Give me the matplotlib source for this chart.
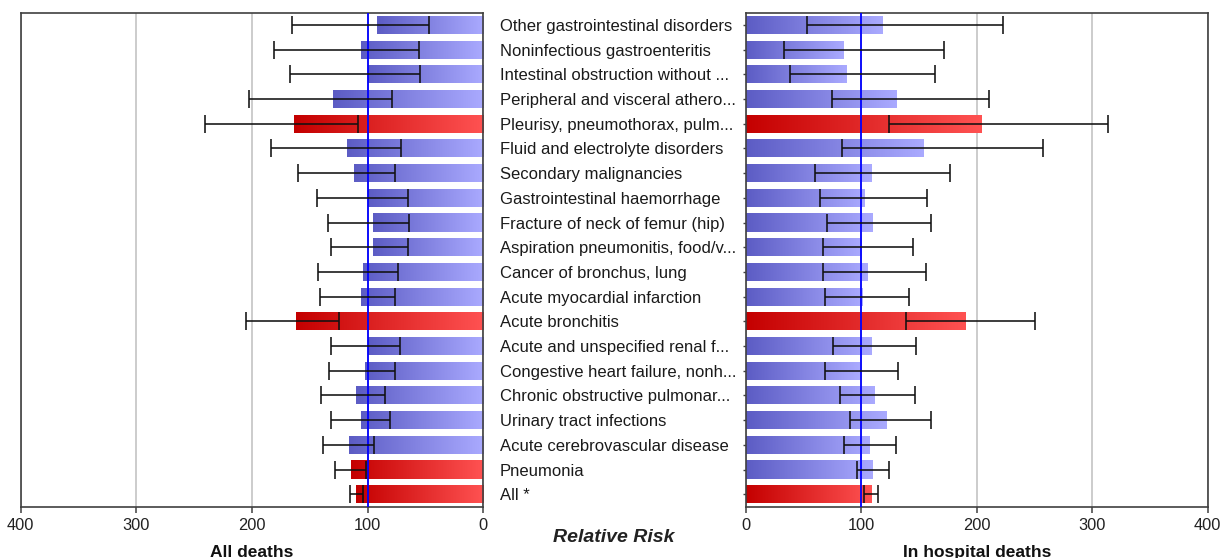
import numpy as np
import matplotlib
matplotlib.use("Agg")
import matplotlib.pyplot as plt
from matplotlib.colors import LinearSegmentedColormap

categories = [
    "Other gastrointestinal disorders",
    "Noninfectious gastroenteritis",
    "Intestinal obstruction without ...",
    "Peripheral and visceral athero...",
    "Pleurisy, pneumothorax, pulm...",
    "Fluid and electrolyte disorders",
    "Secondary malignancies",
    "Gastrointestinal haemorrhage",
    "Fracture of neck of femur (hip)",
    "Aspiration pneumonitis, food/v...",
    "Cancer of bronchus, lung",
    "Acute myocardial infarction",
    "Acute bronchitis",
    "Acute and unspecified renal f...",
    "Congestive heart failure, nonh...",
    "Chronic obstructive pulmonar...",
    "Urinary tract infections",
    "Acute cerebrovascular disease",
    "Pneumonia",
    "All *",
]

all_rr = [92, 106, 100, 130, 164, 118, 112, 100, 95, 95, 104, 106, 162, 100, 102, 110, 106, 116, 114, 110]
all_lo = [47, 56, 54.5, 79, 108, 71, 76, 65, 64, 65, 73.5, 76, 125, 72, 76, 85, 81, 94.5, 101, 104]
all_hi = [165, 181, 167, 203, 241, 184, 160, 144, 134.5, 132, 143, 141, 205, 132, 133, 140, 132, 139, 128, 115]
all_red = [0, 0, 0, 0, 1, 0, 0, 0, 0, 0, 0, 0, 1, 0, 0, 0, 0, 0, 1, 1]

hosp_rr = [118, 84.5, 87, 130, 203.5, 154, 108.5, 103, 109.5, 100, 105.5, 101, 190, 108.5, 98, 111, 122, 107, 109.5, 108.5]
hosp_lo = [53, 33, 38.5, 74.5, 124, 83.5, 60, 64, 70.5, 66.5, 66.5, 69, 138.5, 75.5, 69, 81.5, 90.5, 85.5, 96, 102.5]
hosp_hi = [222.5, 172, 164, 210.5, 313.5, 257, 177, 157, 160, 145, 156, 141, 250.5, 147.5, 132, 146.5, 160, 130.5, 124, 114.5]
hosp_red = [0, 0, 0, 0, 1, 0, 0, 0, 0, 0, 0, 0, 1, 0, 0, 0, 0, 0, 0, 1]

xticks = [0, 100, 200, 300, 400]

FONT = "Liberation Sans"
plt.rcParams["font.family"] = [FONT, "DejaVu Sans"]

W, H = 1224, 558
fig = plt.figure(figsize=(W / 100, H / 100), dpi=100)


def fx(px):
    return px / W


def fy(py):
    return 1 - py / H


ax_l = fig.add_axes([fx(20.7), fy(507.3), fx(483.3 - 20.7), fy(13.3) - fy(507.3)])
ax_r = fig.add_axes([fx(745.7), fy(507.3), fx(1207.7 - 745.7), fy(13.3) - fy(507.3)])

blue_cmap = LinearSegmentedColormap.from_list("b", ["#5c5cc4", "#aaaaff"])
red_cmap = LinearSegmentedColormap.from_list("r", ["#c40000", "#ff5252"])
grad = np.linspace(0, 1, 256).reshape(1, -1)

n = len(categories)
ypos = np.arange(n)
bar_h = 0.73


def draw_panel(ax, rr, lo, hi, red, inverted):
    rr = np.array(rr, float)
    lo = np.array(lo, float)
    hi = np.array(hi, float)
    bars = ax.barh(ypos, rr, height=bar_h, color="none", edgecolor="none", zorder=2)
    for patch, v, r in zip(bars.patches, rr, red):
        y0 = patch.get_y()
        y1 = y0 + patch.get_height()
        ext = (v, 0, y1, y0) if inverted else (0, v, y1, y0)
        im = ax.imshow(grad, cmap=red_cmap if r else blue_cmap, aspect="auto",
                       extent=ext, zorder=2, interpolation="bilinear")
        im.set_clip_path(patch)
    if inverted:
        ax.set_xlim(400, 0)
    else:
        ax.set_xlim(0, 400)
    ax.set_ylim(n - 0.47, -0.47)
    ax.axvline(100, color="#0000ff", lw=1.3, zorder=3)
    ax.errorbar(rr, ypos, xerr=[rr - lo, hi - rr], fmt="none", ecolor="#111111",
                elinewidth=1.15, capsize=6.8, capthick=1.15, zorder=4)
    ax.set_xticks(xticks)
    ax.set_xticklabels([str(t) for t in xticks], fontsize=11.8, color="#222222")
    ax.grid(axis="x", color="#c8c8c8", lw=1.3)
    ax.set_axisbelow(True)
    for s in ax.spines.values():
        s.set_color("#404040")
        s.set_linewidth(1.2)
    ax.tick_params(axis="x", length=4.5, width=1.1, color="#404040", pad=3)


draw_panel(ax_l, all_rr, all_lo, all_hi, all_red, True)
draw_panel(ax_r, hosp_rr, hosp_lo, hosp_hi, hosp_red, False)

ax_l.set_yticks([])
ax_r.set_yticks(ypos)
ax_r.set_yticklabels(categories, fontsize=12, color="#1a1a1a", ha="left")
ax_r.tick_params(axis="y", length=2.5, width=1, color="#404040", pad=(745.7 - 500.7) * 0.72 - 1.8)

fig.text(fx(252), fy(545), "All deaths", ha="center", va="top", fontsize=12.5,
         fontweight="bold", color="#111111")
fig.text(fx(976.7), fy(545), "In hospital deaths", ha="center", va="top", fontsize=12.5,
         fontweight="bold", color="#111111")
fig.text(fx(614), fy(537), "Relative Risk", ha="center", va="center", fontsize=14,
         fontweight="bold", fontstyle="italic", color="#222222")

fig.savefig("out.png", dpi=100)
